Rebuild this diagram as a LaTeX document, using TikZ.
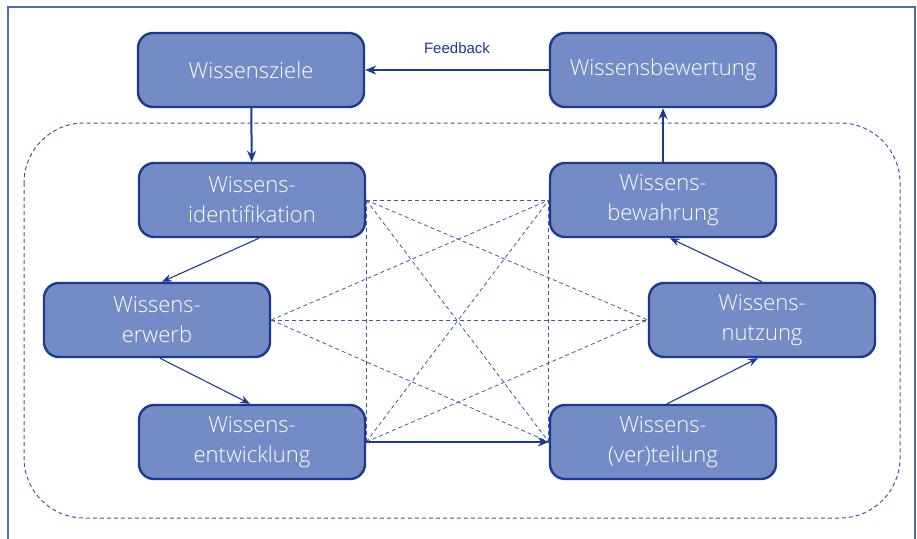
\documentclass[tikz,border=0pt]{standalone}
\usepackage{fontspec}
\IfFontExistsTF{Open Sans Light}{\setmainfont{Open Sans Light}}{\setmainfont{Open Sans}}
\newfontfamily\labelfont{Liberation Sans}
\usetikzlibrary{arrows.meta}

\definecolor{boxfill}{RGB}{117,139,197}
\definecolor{boxline}{RGB}{28,58,145}
\definecolor{frameline}{RGB}{80,108,176}

\begin{document}
\begin{tikzpicture}[x=1pt, y=-1pt]
        \tikzstyle{phase}=[rectangle,rounded corners=15pt,draw=boxline,line width=2.4pt,fill=boxfill,
                           minimum width=226pt,minimum height=74pt,inner sep=2pt,align=center,
                           text=white,font=\fontsize{22}{30}\selectfont]
        \tikzstyle{mainarrow}=[draw=boxline,line width=2pt,-{Stealth[length=11pt,width=9pt,inset=3.5pt]}]
        \tikzstyle{cyclearrow}=[draw=boxline,line width=1.1pt,-{Stealth[length=10pt,width=8pt,inset=3.5pt]}]
        \tikzstyle{link}=[draw=boxline!85,line width=0.8pt,dash pattern=on 4pt off 3pt]

        \useasboundingbox (0,0) rectangle (917,538);
        \draw[frameline,line width=1.3pt] (8,545) -- (8,7) -- (915,7) -- (915,545);
        \draw[link,line width=1pt,rounded corners=60pt] (24,123) rectangle (900,518);

        \node[phase] (W_ziele) at (251,70)  {Wissensziele};
        \node[phase] (W_bewertung) at (663,70)  {Wissensbewertung};
        \node[phase] (W_ident) at (252,200)  {Wissens-\\identifikation};
        \node[phase] (W_bewahrung) at (663,200)  {Wissens-\\bewahrung};
        \node[phase] (W_erwerb) at (157,320)  {Wissens-\\erwerb};
        \node[phase] (W_nutzung) at (762,320)  {Wissens-\\nutzung};
        \node[phase] (W_entw) at (252,442)  {Wissens-\\entwicklung};
        \node[phase] (W_teilung) at (663,442)  {Wissens-\\(ver)teilung};

        % dashed links between the building blocks
        \foreach \a in {W_ident,W_erwerb,W_entw} {
            \foreach \b in {W_bewahrung,W_nutzung,W_teilung} {
                \draw[link] (\a.east) -- (\b.west);
            }
        }
        \draw[link] (W_ident.east) -- (W_entw.east);
        \draw[link] (W_bewahrung.west) -- (W_teilung.west);

        \draw[mainarrow] (W_bewertung) -- (W_ziele) node[midway,above=12pt,text=boxline,font=\labelfont\fontsize{15}{18}\selectfont] {Feedback};
        \draw[mainarrow] (W_ziele) -- (W_ident);
        \draw[mainarrow] (W_bewahrung) -- (W_bewertung);
        \draw[mainarrow] (W_entw) -- (W_teilung);

        \draw[cyclearrow] ([xshift=7pt]W_ident.south) -- ([xshift=5pt]W_erwerb.north);
        \draw[cyclearrow] ([xshift=3pt]W_erwerb.south) -- ([xshift=-2pt]W_entw.north);
        \draw[cyclearrow] ([xshift=4pt]W_teilung.north) -- ([xshift=-4pt]W_nutzung.south);
        \draw[cyclearrow] (W_nutzung.north) -- ([xshift=7pt]W_bewahrung.south);
    \end{tikzpicture}
\end{document}
